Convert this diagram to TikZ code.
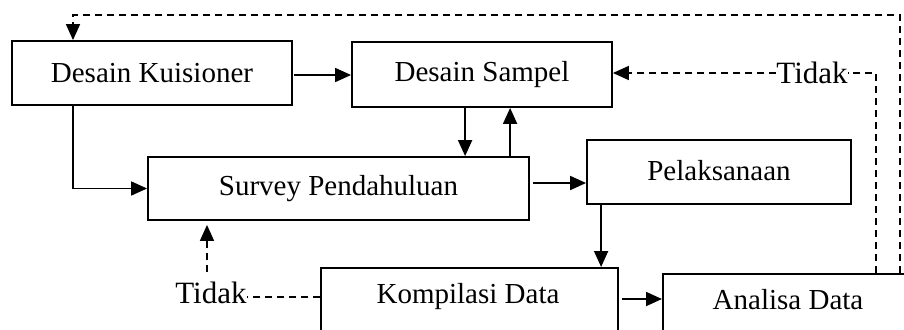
\documentclass[tikz,border=0pt]{standalone}
\usepackage{fontspec}
\setmainfont{Liberation Serif}
\usetikzlibrary{arrows.meta,calc}

\tikzset{
  box/.style={draw, line width=1.8pt, inner sep=0pt, font=\fontsize{29}{31}\selectfont},
  lbl/.style={inner sep=0pt, font=\fontsize{29}{31}\selectfont},
  tidak/.style={inner sep=0pt, font=\fontsize{31}{33}\selectfont},
  arr/.style={line width=1.8pt, -{Triangle[length=16pt,width=14pt]}},
  dline/.style={line width=1.6pt, dash pattern=on 7pt off 5pt},
  darr/.style={dline, -{Triangle[length=16pt,width=14pt]}}
}

\begin{document}
\begin{tikzpicture}[x=1pt,y=-1pt]
  \useasboundingbox (0,0) rectangle (904,329);
  \clip (0,0) rectangle (904,329);

  % process boxes
  \node[box, minimum width=280, minimum height=64] (kuis) at (152,73) {Desain Kuisioner};
  \node[box, minimum width=260, minimum height=65] (samp) at (482,74.5) {Desain Sampel};
  \node[box, minimum width=381, minimum height=63] (surv) at (338.5,188.5) {Survey Pendahuluan};
  \node[box, minimum width=264, minimum height=64] (pel) at (719,172) {\raisebox{3pt}{Pelaksanaan}};
  \node[box, minimum width=297, minimum height=100, anchor=north west] (komp) at (320,267) {};
  \node[lbl] (kompText) at (468,297) {Kompilasi Data};
  \node[box, minimum width=300, minimum height=100, anchor=north west] (anal) at (662,273) {};
  \node[lbl] (analText) at (788,300) {Analisa Data};

  % feedback labels
  \node[tidak] (tidakR) at (812,73) {Tidak};
  \node[tidak] (tidakL) at (211,293) {Tidak};

  % main flow
  \draw[arr] ($(kuis.east)+(1,2)$) -- ($(kuis.east -| samp.west)+(0,2)$);
  \draw[arr] ($(kuis.south)+(-79,0)$) |- (surv.west);
  \draw[arr] ($(samp.south west)+(114,0)$) -- ($(surv.north -| samp.south west)+(114,0)$);
  \draw[arr] ($(surv.north -| samp.south west)+(159,0)$) -- ($(samp.south west)+(159,0)$);
  \draw[arr] ($(surv.east)+(3,-5.5)$) -- ($(surv.east -| pel.west)+(0,-5.5)$);
  \draw[arr] ($(pel.south west)+(15,0)$) -- ($(komp.north -| pel.south west)+(15,0)$);
  \draw[arr] ($(komp.north east)+(3,32)$) -- ($(komp.north east -| anal.west)+(0,32)$);

  % loops back on "Tidak"
  \draw[darr] ($(anal.north west)+(238,0)$) -- ++(0,-258) -| ($(kuis.north)+(-79,0)$);
  \draw[dline] ($(anal.north west)+(214,0)$) |- (tidakR.east);
  \draw[darr] (tidakR.west) -- (tidakR.west -| samp.east);
  \draw[dline] ($(komp.north west)+(0,30)$) -- ($(komp.north west -| tidakL.east)+(0,30)$);
  \draw[darr] ($(tidakL.north)+(-4,-9.5)$) -- ($(surv.south -| tidakL.north)+(-4,4)$);
\end{tikzpicture}
\end{document}
